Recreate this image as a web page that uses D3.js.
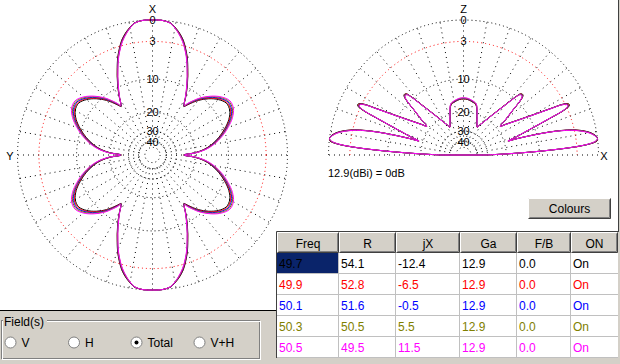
<!DOCTYPE html>
<html>
<head>
<title></title>
<meta http-equiv="content-type" content="text/html; charset=utf-8">
<script type="text/javascript" src="https://cdn.jsdelivr.net/npm/d3@7"></script>
<style>
body { margin: 0; background: #d4d0c8; }
svg text { font-family: Arial, "Liberation Sans", sans-serif; }
</style>
</head>
<body>
<svg id="chart" width="620" height="364"></svg>
<script type="text/javascript">
// ======================
// data
// ======================
var freqs  = ['49.7', '49.9', '50.1', '50.3', '50.5'];
var resist = ['54.1', '52.8', '51.6', '50.5', '49.5'];
var react  = ['-12.4', '-6.5', '-0.5', '5.5', '11.5'];
var gains  = ['12.9', '12.9', '12.9', '12.9', '12.9'];
var fbs    = ['0.0', '0.0', '0.0', '0.0', '0.0'];
var onOff  = ['On', 'On', 'On', 'On', 'On'];
var columns = ['Freq', 'R', 'jX', 'Ga', 'F/B', 'ON'];
var colours = ['#000000', '#ff0000', '#0000ff', '#808000', '#ff00ff'];

var ringLevels = [0, -3, -10, -20, -30, -40, -50];
var ringLabels = ['0', '3', '10', '20', '30', '40'];
var fieldModes = ['V', 'H', 'Total', 'V+H'];

// azimuth, angle from X axis (one quarter, pattern is symmetric), dB
var azAngles = [0, 4, 8, 10, 12, 15, 18, 20, 22, 24, 26, 28, 30, 32, 33, 34, 36, 40, 45, 50, 55, 60, 65, 70, 75, 80, 84, 87, 90];
var az497 = [0, 0, -0.25, -0.7, -1.2, -2.2, -3.7, -4.85, -6.25, -7.65, -9.15, -10.7, -12.4, -14.3, -14.8, -14.3, -13.2, -11.1, -9.2, -7.8, -7.0, -7.2, -8.2, -9.8, -11.7, -14.1, -16.8, -20.2, -25.5];
var az499 = [0, 0, -0.27, -0.73, -1.27, -2.28, -3.78, -4.94, -6.35, -7.75, -9.25, -10.8, -12.45, -14.25, -14.7, -14.1, -13.0, -10.9, -9.0, -7.6, -6.8, -7.0, -8.0, -9.6, -11.5, -13.9, -16.6, -20.0, -25.4];
var az501 = [0, 0, -0.28, -0.76, -1.32, -2.36, -3.86, -5.03, -6.44, -7.84, -9.34, -10.87, -12.5, -14.25, -14.6, -13.9, -12.8, -10.7, -8.8, -7.4, -6.6, -6.8, -7.8, -9.4, -11.3, -13.7, -16.4, -19.8, -25.3];
var az503 = [0, 0, -0.29, -0.78, -1.36, -2.43, -3.93, -5.1, -6.52, -7.92, -9.42, -10.93, -12.55, -14.2, -14.5, -13.75, -12.6, -10.5, -8.6, -7.2, -6.4, -6.6, -7.6, -9.2, -11.1, -13.5, -16.2, -19.6, -25.1];
var az505 = [0, 0, -0.3, -0.8, -1.4, -2.5, -4.0, -5.2, -6.6, -8.0, -9.5, -11.0, -12.6, -14.2, -14.4, -13.6, -12.4, -10.3, -8.4, -7.0, -6.2, -6.4, -7.4, -9.0, -10.9, -13.3, -16.0, -19.5, -25.0];

// elevation, angle above horizon (X side, mirrored for the other side), dB
var elAngles = [0, 1, 2, 3, 4, 5, 6, 7, 8, 10, 12, 13, 14, 15, 16, 17, 17.5, 19, 21, 23, 24, 25, 26, 27, 28, 30, 33, 36, 38, 40, 42, 44, 45, 46, 47, 48, 50, 52, 55, 58, 61, 64, 66, 68, 70, 72, 74, 76, 78, 82, 86, 90];
var el497 = [-32, -23.8, -15.8, -8.8, -3.8, -1.1, -0.1, 0, -0.1, -0.8, -2.2, -3.3, -4.9, -7.2, -10.7, -15.2, -18.3, -15.2, -11.2, -6.2, -3.5, -2.5, -2.5, -3.2, -5.2, -8.9, -13.1, -16.4, -18.3, -15.5, -12.6, -8.9, -8.2, -8.1, -8.3, -9.3, -12.2, -14.8, -18.1, -21.0, -23.4, -25.6, -24.8, -23.4, -21.8, -20.1, -18.0, -16.7, -16.3, -15.8, -15.4, -15.3];
var el499 = [-32, -23.85, -15.85, -8.85, -3.85, -1.15, -0.15, 0, -0.12, -0.85, -2.3, -3.4, -5.0, -7.3, -10.8, -15.3, -18.4, -15.3, -11.3, -6.3, -3.6, -2.6, -2.6, -3.3, -5.3, -9.0, -13.2, -16.5, -18.4, -15.6, -12.7, -9.0, -8.3, -8.2, -8.4, -9.4, -12.3, -14.9, -18.2, -21.1, -23.4, -25.6, -24.7, -23.3, -21.7, -20.0, -17.9, -16.6, -16.2, -15.7, -15.3, -15.2];
var el501 = [-32, -23.9, -15.9, -8.9, -3.9, -1.2, -0.2, 0, -0.15, -0.9, -2.4, -3.5, -5.1, -7.4, -10.9, -15.4, -18.4, -15.4, -11.4, -6.4, -3.7, -2.7, -2.7, -3.4, -5.4, -9.1, -13.3, -16.6, -18.4, -15.7, -12.8, -9.1, -8.4, -8.3, -8.5, -9.5, -12.4, -15.0, -18.3, -21.1, -23.5, -25.5, -24.5, -23.1, -21.5, -19.8, -17.8, -16.5, -16.1, -15.6, -15.2, -15.1];
var el503 = [-32, -23.95, -15.95, -8.95, -3.95, -1.25, -0.25, 0, -0.18, -0.95, -2.45, -3.55, -5.15, -7.45, -10.95, -15.45, -18.5, -15.45, -11.45, -6.45, -3.75, -2.75, -2.75, -3.45, -5.45, -9.15, -13.35, -16.65, -18.5, -15.75, -12.85, -9.15, -8.45, -8.35, -8.55, -9.55, -12.45, -15.05, -18.35, -21.15, -23.5, -25.5, -24.4, -23.0, -21.4, -19.7, -17.7, -16.4, -16.0, -15.5, -15.1, -15.0];
var el505 = [-32, -24, -16, -9, -4, -1.3, -0.3, 0, -0.2, -1.0, -2.5, -3.6, -5.2, -7.5, -11, -15.5, -18.5, -15.5, -11.5, -6.5, -3.8, -2.8, -2.8, -3.5, -5.5, -9.2, -13.4, -16.7, -18.5, -15.8, -12.9, -9.2, -8.5, -8.4, -8.6, -9.6, -12.5, -15.1, -18.4, -21.2, -23.5, -25.5, -24.3, -22.9, -21.3, -19.6, -17.6, -16.3, -15.9, -15.4, -15.0, -14.9];

var azSeries = [az497, az499, az501, az503, az505];
var elSeries = [el497, el499, el501, el503, el505];

// ======================
// layout
// ======================
var R = 135;
var azCenter = [152.5, 155];
var elCenter = [463.5, 155];
var colX = [277, 339, 396, 460, 517, 571, 618];
var headTop = 232, headH = 21, rowH = 21;

var svg = d3.select('#chart');
var toRad = Math.PI / 180;

// ARRL style log radius: dB -> pixels
var rScale = d3.scaleLog().domain([7.6, R]).range([-50, 0]);
function rad(db) {
    return rScale.invert(Math.max(db, -50));
}

// backgrounds
svg.append('rect').attr('width', 620).attr('height', 364).attr('fill', '#ffffff');
svg.append('rect').attr('x', 0).attr('y', 311).attr('width', 277).attr('height', 53).attr('fill', '#d4d0c8');
svg.append('rect').attr('x', 277).attr('y', 358).attr('width', 343).attr('height', 6).attr('fill', '#d4d0c8');
svg.append('line').attr('x1', 0).attr('x2', 277).attr('y1', 310.5).attr('y2', 310.5).attr('stroke', '#000');
svg.append('rect').attr('x', 618).attr('y', 0).attr('width', 2).attr('height', 364).attr('fill', '#d4d0c8');
svg.append('line').attr('x1', 618.5).attr('x2', 618.5).attr('y1', 0).attr('y2', 232).attr('stroke', '#404040');

// ======================
// grids
// ======================
function drawGrid(g, half) {
    var spokes = d3.range(0, half ? 190 : 360, 10);
    g.selectAll('line.spoke').data(spokes).enter().append('line')
        .attr('x1', function (a) { return rad(-40) * Math.cos(a * toRad); })
        .attr('y1', function (a) { return -rad(-40) * Math.sin(a * toRad); })
        .attr('x2', function (a) { return R * Math.cos(a * toRad); })
        .attr('y2', function (a) { return -R * Math.sin(a * toRad); })
        .attr('stroke', '#000').attr('stroke-width', 1)
        .attr('stroke-dasharray', '1,4');

    g.selectAll('path.ring').data(ringLevels).enter().append('path')
        .attr('d', function (l) {
            var p = d3.path();
            var r = rad(l);
            if (half) {
                p.moveTo(-r, 0);
                p.arc(0, 0, r, Math.PI, 2 * Math.PI);
            } else {
                p.moveTo(r, 0);
                p.arc(0, 0, r, 0, 2 * Math.PI);
            }
            return p.toString();
        })
        .attr('fill', 'none')
        .attr('stroke', function (l) { return l == -3 ? '#ff0000' : '#000'; })
        .attr('stroke-dasharray', '1,3');
}

function drawLabels(g) {
    g.selectAll('text.lvl').data(ringLabels).enter().append('text')
        .attr('x', 0)
        .attr('y', function (d) { return -rad(-d) + 4; })
        .attr('text-anchor', 'middle')
        .attr('font-size', 11)
        .text(function (d) { return d; });
}

var azG = svg.append('g').attr('transform', 'translate(' + azCenter + ')');
var elG = svg.append('g').attr('transform', 'translate(' + elCenter + ')');
drawGrid(azG, false);
drawGrid(elG, true);

// ======================
// patterns
// ======================
function azPoints(vals) {
    var pts = [], n = azAngles.length, i;
    for (i = 0; i < n; i++) pts.push([azAngles[i], vals[i]]);
    for (i = n - 2; i >= 0; i--) pts.push([180 - azAngles[i], vals[i]]);
    for (i = 1; i < n; i++) pts.push([180 + azAngles[i], vals[i]]);
    for (i = n - 2; i >= 1; i--) pts.push([360 - azAngles[i], vals[i]]);
    return pts;
}
function elPoints(vals) {
    var pts = [], n = elAngles.length, i;
    for (i = 0; i < n; i++) pts.push([90 - elAngles[i], vals[i]]);
    for (i = n - 2; i >= 0; i--) pts.push([elAngles[i] - 90, vals[i]]);
    return pts;
}
var azLine = d3.lineRadial()
    .angle(function (d) { return d[0] * toRad; })
    .radius(function (d) { return rad(d[1]); })
    .curve(d3.curveCatmullRomClosed.alpha(0.5));
var elLine = d3.lineRadial()
    .angle(function (d) { return d[0] * toRad; })
    .radius(function (d) { return rad(d[1]); })
    .curve(d3.curveCatmullRom.alpha(0.5));

azG.selectAll('path.pat').data(azSeries).enter().append('path')
    .attr('d', function (d) { return azLine(azPoints(d)); })
    .attr('fill', 'none')
    .attr('stroke', function (d, i) { return colours[i]; })
    .attr('stroke-width', 1);
elG.selectAll('path.pat').data(elSeries).enter().append('path')
    .attr('d', function (d) { return elLine(elPoints(d)) + 'Z'; })
    .attr('fill', 'none')
    .attr('stroke', function (d, i) { return colours[i]; })
    .attr('stroke-width', 1);

drawLabels(azG);
drawLabels(elG);

// axis names
function axisText(x, y, t) {
    svg.append('text').attr('x', x).attr('y', y).attr('text-anchor', 'middle')
        .attr('font-size', 11).text(t);
}
axisText(azCenter[0], 12.5, 'X');
axisText(10, 159.5, 'Y');
axisText(elCenter[0], 13, 'Z');
axisText(604, 159.5, 'X');
svg.append('text').attr('x', 328).attr('y', 177).attr('font-size', 11)
    .text(gains[0] + '(dBi) = 0dB');

// ======================
// colours button
// ======================
function bevel(g, x, y, w, h) {
    g.append('rect').attr('x', x).attr('y', y).attr('width', w).attr('height', h).attr('fill', '#d4d0c8');
    g.append('path').attr('d', 'M' + (x + 0.5) + ',' + (y + h - 0.5) + 'V' + (y + 0.5) + 'H' + (x + w - 0.5))
        .attr('fill', 'none').attr('stroke', '#ffffff');
    g.append('path').attr('d', 'M' + (x + 0.5) + ',' + (y + h - 0.5) + 'H' + (x + w - 0.5) + 'V' + (y + 0.5))
        .attr('fill', 'none').attr('stroke', '#404040');
    g.append('path').attr('d', 'M' + (x + 1.5) + ',' + (y + h - 1.5) + 'H' + (x + w - 1.5) + 'V' + (y + 1.5))
        .attr('fill', 'none').attr('stroke', '#808080');
}
var btn = svg.append('g');
bevel(btn, 528, 198, 83, 21);
btn.append('text').attr('x', 569.5).attr('y', 213).attr('text-anchor', 'middle')
    .attr('font-size', 12).text('Colours');

// ======================
// table
// ======================
var tbl = svg.append('g');
tbl.append('rect').attr('x', colX[0]).attr('y', headTop).attr('width', colX[6] - colX[0])
    .attr('height', headH + rowH * 5).attr('fill', '#ffffff');
columns.forEach(function (c, i) {
    bevel(tbl, colX[i], headTop, colX[i + 1] - colX[i], headH);
    tbl.append('text').attr('x', (colX[i] + colX[i + 1]) / 2).attr('y', headTop + 16)
        .attr('text-anchor', 'middle').attr('font-size', 12).text(c);
});
tbl.append('rect').attr('x', colX[0]).attr('y', headTop + headH)
    .attr('width', colX[1] - colX[0]).attr('height', rowH - 1).attr('fill', '#0a246a');

var cells = [freqs, resist, react, gains, fbs, onOff];
freqs.forEach(function (f, r) {
    var y = headTop + headH + rowH * r;
    tbl.append('line').attr('x1', colX[0]).attr('x2', colX[6])
        .attr('y1', y + rowH - 0.5).attr('y2', y + rowH - 0.5).attr('stroke', '#c0c0c0');
    cells.forEach(function (col, c) {
        tbl.append('text').attr('x', colX[c] + 2).attr('y', y + 15)
            .attr('font-size', 12).attr('fill', colours[r]).text(col[r]);
    });
});
colX.slice(1, 6).forEach(function (x) {
    tbl.append('line').attr('x1', x - 0.5).attr('x2', x - 0.5)
        .attr('y1', headTop + headH).attr('y2', headTop + headH + rowH * 5).attr('stroke', '#c0c0c0');
});
tbl.append('path').attr('d', 'M' + (colX[0] - 0.5) + ',358V' + (headTop - 0.5) + 'H' + colX[6])
    .attr('fill', 'none').attr('stroke', '#404040');

// ======================
// field(s) group
// ======================
var grp = svg.append('g');
grp.append('rect').attr('x', 1.5).attr('y', 320.5).attr('width', 258).attr('height', 38)
    .attr('fill', 'none').attr('stroke', '#808080');
grp.append('rect').attr('x', 2.5).attr('y', 321.5).attr('width', 258).attr('height', 38)
    .attr('fill', 'none').attr('stroke', '#ffffff');
grp.append('rect').attr('x', 3).attr('y', 314).attr('width', 44).attr('height', 12).attr('fill', '#d4d0c8');
grp.append('text').attr('x', 4).attr('y', 326).attr('font-size', 12).text('Field(s)');
var radioX = [10.5, 74, 136.5, 199.5];
fieldModes.forEach(function (m, i) {
    grp.append('circle').attr('cx', radioX[i]).attr('cy', 342.5).attr('r', 5.5)
        .attr('fill', '#ffffff').attr('stroke', '#808080');
    if (m == 'Total') {
        grp.append('circle').attr('cx', radioX[i]).attr('cy', 342.5).attr('r', 2).attr('fill', '#000');
    }
    grp.append('text').attr('x', radioX[i] + 11).attr('y', 347).attr('font-size', 12).text(m);
});
</script>
</body>
</html>
